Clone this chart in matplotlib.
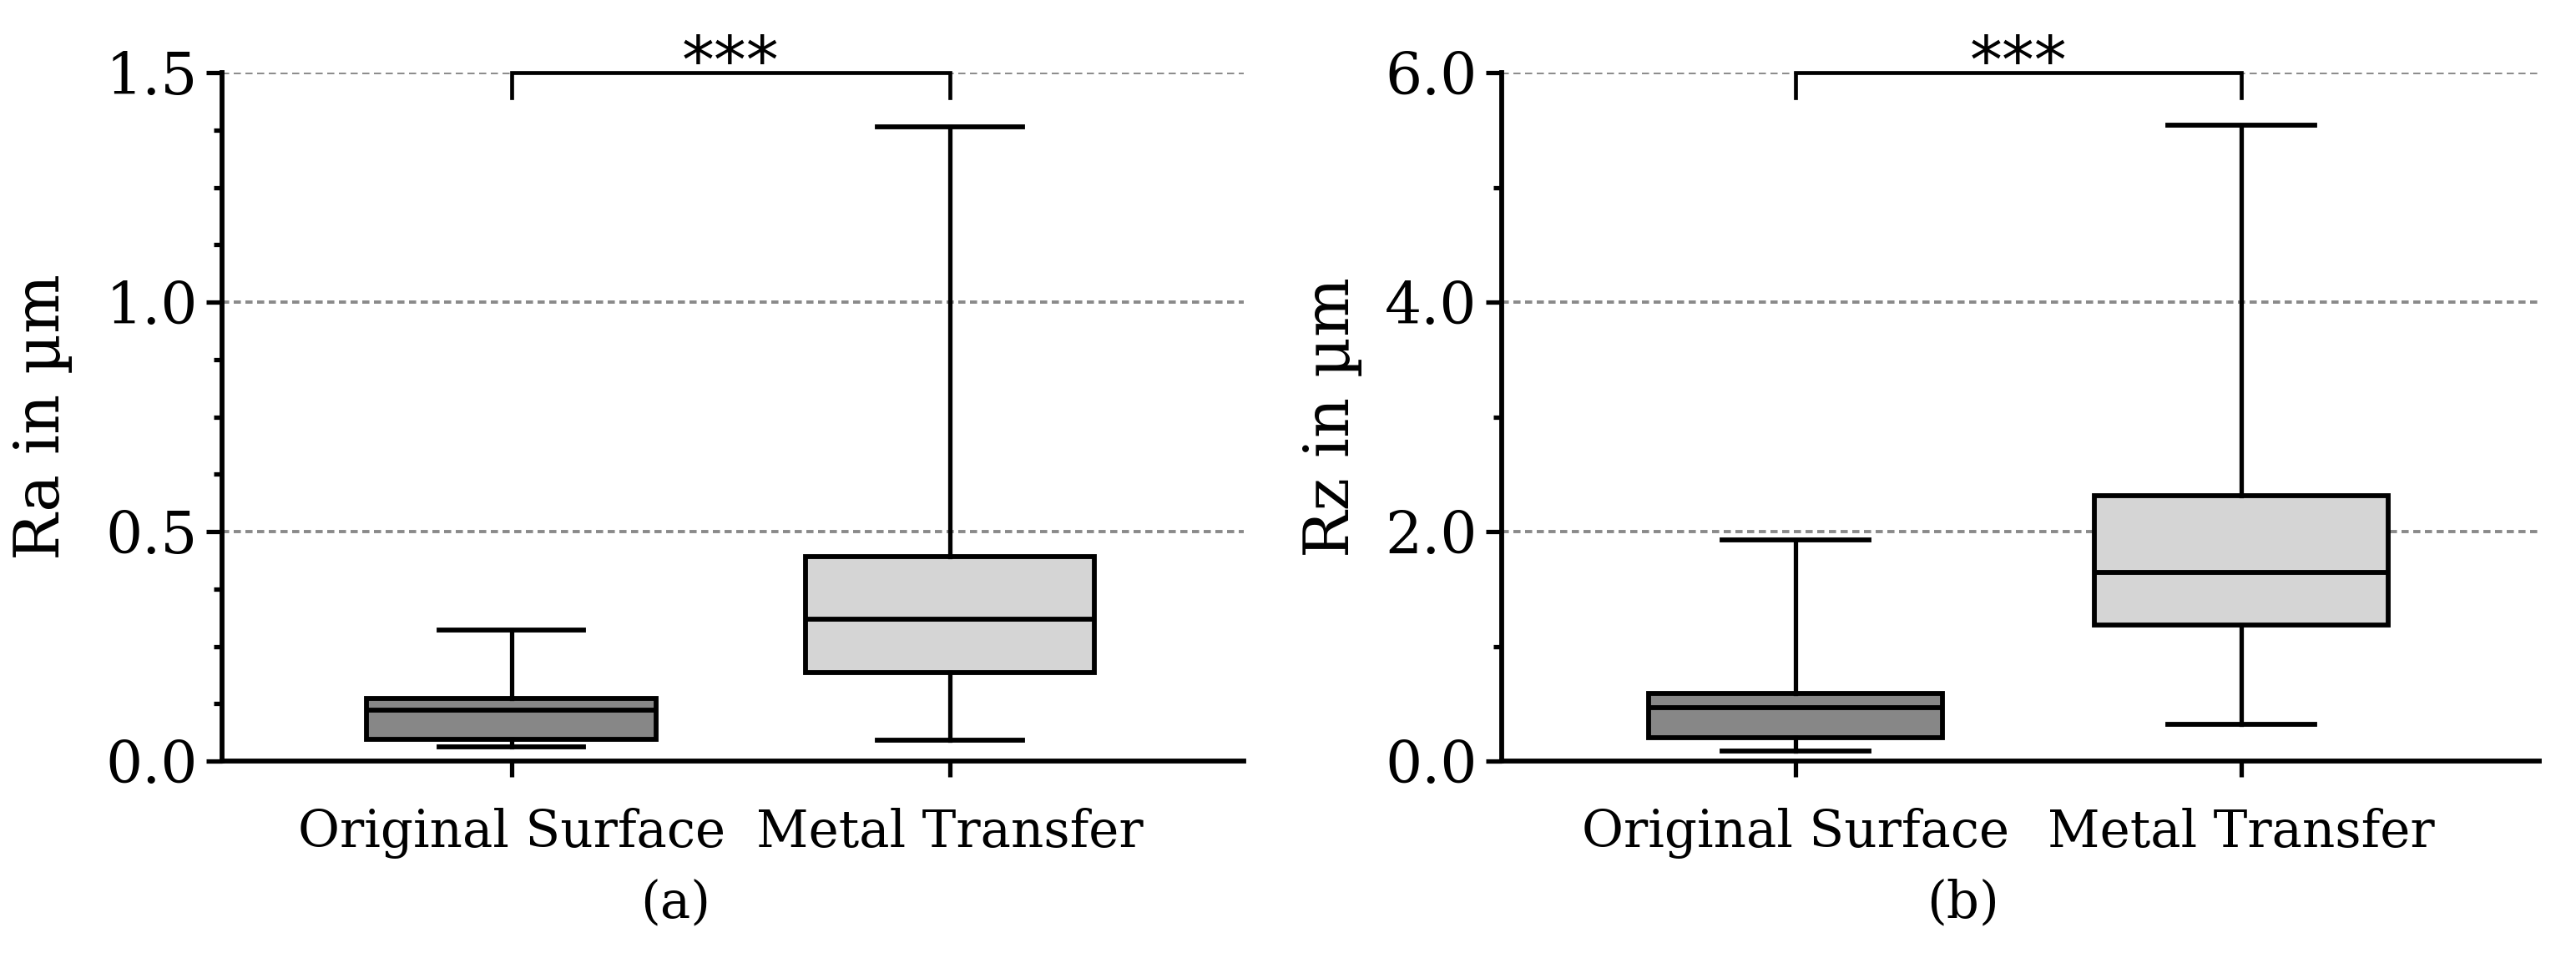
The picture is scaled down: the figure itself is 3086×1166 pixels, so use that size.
import matplotlib
matplotlib.use("Agg")
import matplotlib.pyplot as plt
from matplotlib.ticker import MultipleLocator, FormatStrFormatter

# ---- data ----
categories = ["Original Surface", "Metal Transfer"]

ra_whislo = [0.031, 0.046]
ra_q1 = [0.048, 0.192]
ra_med = [0.111, 0.309]
ra_q3 = [0.136, 0.446]
ra_whishi = [0.286, 1.381]

rz_whislo = [0.09, 0.32]
rz_q1 = [0.205, 1.184]
rz_med = [0.465, 1.645]
rz_q3 = [0.588, 2.31]
rz_whishi = [1.93, 5.54]

ylabels = ["Ra in µm", "Rz in µm"]
panel_labels = ["(a)", "(b)"]
sig_label = "***"
ra_ticks = [0.0, 0.5, 1.0, 1.5]
rz_ticks = [0.0, 2.0, 4.0, 6.0]

# ---- style ----
box_colors = ["#878787", "#d5d5d5"]
plt.rcParams['font.family'] = ['DejaVu Serif', 'DejaVu Sans']
FS = 44
LW = 4.2

W, H = 3086, 1166
fig = plt.figure(figsize=(W / 100, H / 100), dpi=100)
ax1 = fig.add_axes([266 / W, 1 - 912 / H, (1490 - 266) / W, 825 / H])
ax2 = fig.add_axes([1799 / W, 1 - 912 / H, (3042 - 1799) / W, 825 / H])

panels = [
    (ax1, ra_whislo, ra_q1, ra_med, ra_q3, ra_whishi, ra_ticks, 0.125, ylabels[0], -0.146),
    (ax2, rz_whislo, rz_q1, rz_med, rz_q3, rz_whishi, rz_ticks, 1.0, ylabels[1], -0.134),
]

for ax, wlo, q1, med, q3, whi, ticks, minor, ylab, labx in panels:
    stats = []
    for i in range(len(categories)):
        stats.append(dict(whislo=wlo[i], q1=q1[i], med=med[i], q3=q3[i],
                          whishi=whi[i], fliers=[], label=categories[i]))
    bp = ax.bxp(stats, positions=[1, 2], widths=0.66, capwidths=0.33,
                patch_artist=True, showfliers=False,
                boxprops=dict(linewidth=LW, edgecolor="black"),
                medianprops=dict(color="black", linewidth=LW),
                whiskerprops=dict(color="black", linewidth=LW * 0.9),
                capprops=dict(color="black", linewidth=LW))
    for patch, c in zip(bp["boxes"], box_colors):
        patch.set_facecolor(c)

    top = ticks[-1]
    ax.set_ylim(0, top)
    ax.set_xlim(0.34, 2.67)
    ax.set_yticks(ticks)
    ax.yaxis.set_major_formatter(FormatStrFormatter("%.1f"))
    ax.yaxis.set_minor_locator(MultipleLocator(minor))
    ax.set_xticks([1, 2])
    ax.set_xticklabels(categories, fontsize=FS)
    ax.tick_params(axis="y", which="major", direction="out", length=14, width=LW * 0.9,
                   labelsize=50, pad=7)
    ax.tick_params(axis="y", which="minor", direction="out", length=7, width=LW * 0.9)
    ax.tick_params(axis="x", which="major", direction="out", length=14, width=LW * 0.9,
                   pad=26)
    ax.tick_params(axis="x", which="minor", bottom=False)
    for s in ["top", "right"]:
        ax.spines[s].set_visible(False)
    for s in ["left", "bottom"]:
        ax.spines[s].set_linewidth(LW)
    ax.set_axisbelow(True)
    ax.yaxis.grid(True, which="major", color="#8a8a8a", linewidth=2.8,
                  linestyle=(0, (2.2, 1.4)))
    ax.set_ylabel(ylab, fontsize=54)
    ax.yaxis.set_label_coords(labx, 0.5)

    # significance bracket
    drop = top * 30 / 825
    ax.plot([1, 1, 2, 2], [top - drop, top, top, top - drop], color="black",
            linewidth=LW * 0.8, clip_on=False, solid_joinstyle="miter", zorder=5)
    ax.text(1.5, top - top * 12 / 825, sig_label, ha="center", va="baseline",
            fontsize=56, family="DejaVu Sans", zorder=6)

fig.text(411 / 1568, 1 - 1082 / H, panel_labels[0], ha="center", va="center", fontsize=44)
fig.text(1195 / 1568, 1 - 1082 / H, panel_labels[1], ha="center", va="center", fontsize=44)

fig.savefig("out.png", dpi=100)
